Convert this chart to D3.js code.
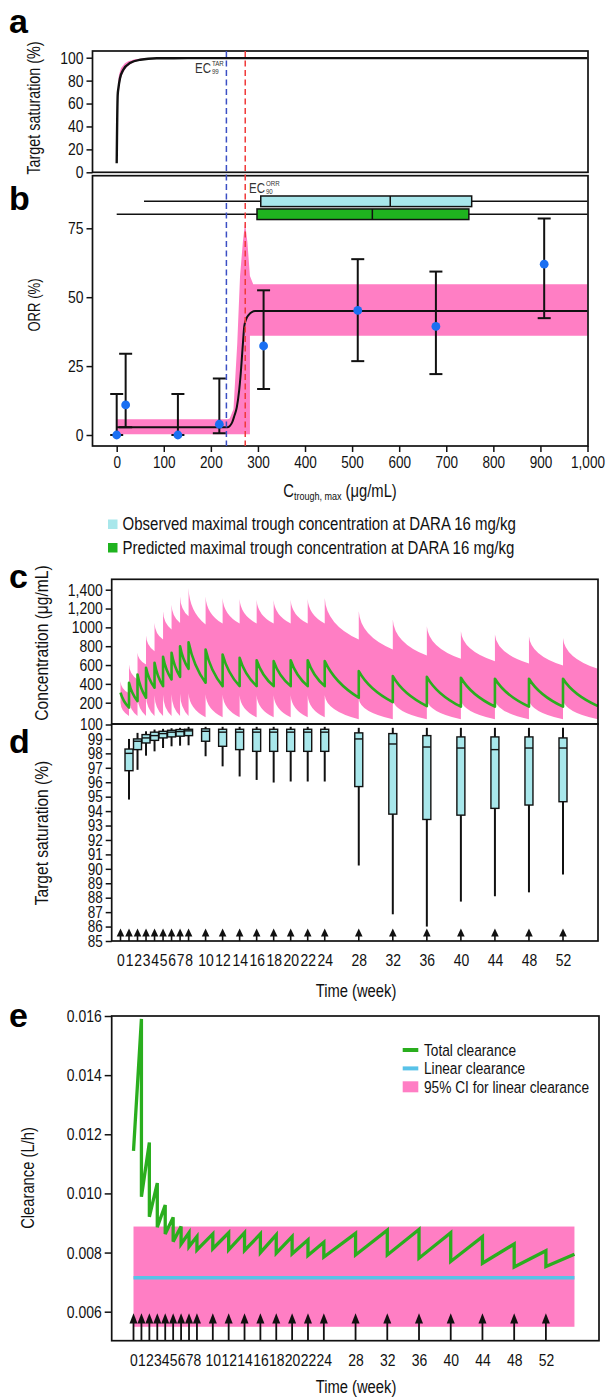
<!DOCTYPE html>
<html>
<head>
<meta charset="UTF-8">
<title>DARA exposure, target saturation and clearance</title>
<script src="https://d3js.org/d3.v7.min.js"></script>
<style>
  body { margin: 0; background: #fff; }
</style>
</head>
<body>
<div id="chart"></div>
<script>
// ---------- data ----------
// a: target saturation vs Ctrough,max
const satConc     = [0, 2.1, 3.5, 7, 14, 28, 50, 85, 150, 1000];
const satMedian   = [7.9, 67.5, 73, 82, 89.5, 95.3, 98.2, 99.5, 99.6, 99.6];
const satBandConc = [2.1, 3.5, 7, 14, 28, 50, 85];
const satBandLow  = [67, 68, 78, 87, 94, 97.6, 99.3];
const satBandHigh = [68, 80, 88, 93.5, 97.3, 99, 99.7];
const satTicks    = [0, 20, 40, 60, 80, 100];
const ec99Tar = 233;
const ec90Orr = 273;

// b: ORR vs Ctrough,max
const orrCurveConc = [0, 235, 245, 250, 255, 260, 263, 268, 271, 275, 280, 294, 1000];
const orrCurve     = [2.8, 2.8, 4.5, 7, 10, 16, 21.4, 33, 39.5, 42, 43.5, 45, 45];
const orrBandConc  = [0, 236, 240, 248, 256, 262, 268, 272.6, 277.6, 283, 283, 290, 1000];
const orrBandLow   = [0.3, 0.3, 0.3, 0.3, 0.3, 0.3, 0.3, 0.3, 0.3, 0.3, 36, 36, 36];
const orrBandHigh  = [5.7, 5.7, 6, 9.3, 33, 57.7, 70, 77, 70, 57.7, 57.7, 54.7, 54.7];
const orrConc = [0, 19, 130, 218, 312, 512, 678, 908];
const orrObs  = [0, 10.9, 0, 3.9, 32.3, 45.2, 39.4, 62];
const orrLow  = [0, 2.8, 0, 0.6, 16.7, 26.8, 22.1, 42.4];
const orrHigh = [14.9, 29.5, 14.9, 20.5, 52.5, 63.8, 59.3, 78.6];
const orrTicks  = [0, 25, 50, 75];
const concTicks = [0, 100, 200, 300, 400, 500, 600, 700, 800, 900, 1000];
const troughNames = ["Observed maximal trough concentration at DARA 16 mg/kg",
                     "Predicted maximal trough concentration at DARA 16 mg/kg"];
const troughMin = [58, 0];
const troughQ1  = [306, 298];
const troughMed = [581, 543];
const troughQ3  = [754, 748];
const troughMax = [1000, 1000];

// c: concentration-time, median and 95% band
const doseWeeks = [0, 1, 2, 3, 4, 5, 6, 7, 8, 10, 12, 14, 16, 18, 20, 22, 24, 28, 32, 36, 40, 44, 48, 52];
const concMedPeak   = [306, 412, 500, 571, 624, 687, 730, 800, 842, 765, 712, 677, 651, 641, 651, 651, 641, 535, 482, 475, 465, 454, 454, 454];
const concMedTrough = [147, 217, 253, 359, 376, 447, 475, 560, 412, 376, 376, 376, 376, 376, 376, 376, 253, 206, 164, 158, 158, 158, 158, 164];
const concHiPeak    = [429, 606, 730, 913, 1047, 1170, 1241, 1329, 1418, 1329, 1312, 1300, 1294, 1290, 1294, 1300, 1312, 1170, 1082, 1012, 959, 923, 906, 888];
const concHiTrough  = [300, 447, 606, 747, 871, 977, 1047, 1118, 1030, 1040, 1040, 1040, 1040, 1040, 1040, 1040, 871, 765, 701, 666, 641, 616, 595, 560];
const concLoPeak    = [200, 240, 260, 270, 280, 285, 290, 295, 300, 290, 285, 280, 280, 280, 280, 280, 280, 240, 235, 235, 235, 235, 235, 235];
const concLoTrough  = [60, 60, 60, 60, 60, 60, 60, 60, 45, 45, 45, 45, 45, 45, 45, 45, 25, 25, 25, 25, 25, 25, 25, 25];
const concEndWeek = 56.1;
const concTickValues = [200, 400, 600, 800, 1000, 1200, 1400];
const concTickLabels = ["200", "400", "600", "800", "1000", "1,200", "1,400"];

// d: target saturation boxplots at trough
const boxWeeks = [1, 2, 3, 4, 5, 6, 7, 8, 10, 12, 14, 16, 18, 20, 22, 24, 28, 32, 36, 40, 44, 48, 52];
const boxLow  = [94.8, 96.86, 97.84, 98.14, 98.37, 98.49, 98.53, 98.56, 97.8, 97.1, 96.4, 96.16, 95.98, 96.05, 96.05, 96.05, 90.23, 86.85, 86.0, 87.73, 88.1, 88.37, 89.6];
const boxQ1   = [96.8, 98.26, 98.72, 98.9, 99.07, 99.14, 99.19, 99.23, 98.84, 98.49, 98.26, 98.14, 98.14, 98.14, 98.14, 98.14, 95.7, 93.79, 93.42, 93.72, 94.19, 94.42, 94.65];
const boxMed  = [98.0, 98.84, 99.07, 99.23, 99.37, 99.47, 99.51, 99.56, 99.53, 99.47, 99.47, 99.47, 99.47, 99.47, 99.47, 99.47, 99.0, 98.65, 98.44, 98.37, 98.26, 98.37, 98.37];
const boxQ3   = [98.3, 99.0, 99.3, 99.47, 99.53, 99.6, 99.65, 99.67, 99.7, 99.67, 99.67, 99.67, 99.67, 99.67, 99.67, 99.67, 99.42, 99.37, 99.23, 99.14, 99.14, 99.14, 99.07];
const boxHigh = [99.0, 99.42, 99.53, 99.65, 99.7, 99.74, 99.77, 99.84, 99.84, 99.84, 99.84, 99.84, 99.84, 99.84, 99.84, 99.84, 99.77, 99.77, 99.77, 99.77, 99.77, 99.77, 99.77];
const satDTicks = [85, 86, 87, 88, 89, 90, 91, 92, 93, 94, 95, 96, 97, 98, 99, 100];

// e: clearance
const clAfterDose  = [0.01144, 0.00989, 0.00921, 0.00886, 0.00863, 0.00837, 0.00829, 0.0082, 0.00809, 0.00813, 0.00809, 0.00807, 0.008, 0.00798, 0.00796, 0.0079, 0.00785, 0.00792, 0.00792, 0.00781, 0.0077, 0.00764, 0.00751, 0.00753];
const clBeforeNext = [0.0159, 0.01172, 0.01035, 0.00961, 0.00919, 0.00888, 0.00867, 0.00854, 0.00863, 0.00867, 0.00867, 0.00863, 0.0086, 0.00854, 0.00843, 0.00835, 0.00865, 0.00876, 0.00878, 0.00867, 0.00854, 0.00829, 0.00806, 0.00794];
const linearCl = 0.00715;
const linearClLow = 0.00549;
const linearClHigh = 0.00888;
const clEndWeek = 55.6;
const clTicks = [0.006, 0.008, 0.010, 0.012, 0.014, 0.016];
const clLegend = ["Total clearance", "Linear clearance", "95% CI for linear clearance"];

// ---------- look ----------
const FONT = "'Liberation Sans', Arial, sans-serif";
const SQUEEZE = 0.82;   // the figure uses a condensed face; squeeze regular glyphs
const INK = "#111";
const PINK = "#ff7ec4";
const GREEN = "#2aae1e";
const BOXGREEN = "#1fb31f";
const CYAN = "#a8e7eb";
const DOT = "#1a6ff2";
const LINBLUE = "#58c2e8";

const svg = d3.select("#chart").append("svg")
  .attr("width", 608).attr("height", 1398)
  .style("font-family", FONT);
const defs = svg.append("defs");

function clipRect(id, x0, y0, x1, y1) {
  defs.append("clipPath").attr("id", id).append("rect")
    .attr("x", x0).attr("y", y0).attr("width", x1 - x0).attr("height", y1 - y0);
  return "url(#" + id + ")";
}
function frame(x0, y0, x1, y1) {
  svg.append("rect").attr("x", x0).attr("y", y0)
    .attr("width", x1 - x0).attr("height", y1 - y0)
    .attr("fill", "none").attr("stroke", INK).attr("stroke-width", 1.7);
}
function tidyAxis(g, size) {
  g.select(".domain").remove();
  g.selectAll(".tick line").attr("stroke", INK).attr("stroke-width", 1.5);
  g.selectAll(".tick text").attr("fill", INK)
    .style("font-size", size + "px").style("font-family", FONT);
}
function yTitle(x, y, txt, size) {
  svg.append("text").attr("transform", "translate(" + x + "," + y + ") rotate(-90)")
    .attr("text-anchor", "middle").style("font-size", size + "px").attr("fill", INK).text(txt);
}
function panelLetter(x, y, ch) {
  svg.append("text").attr("class", "letter").attr("x", x).attr("y", y).text(ch)
    .style("font-weight", "bold").style("font-size", "34px").attr("fill", "#000");
}
function ecLabel(x, y, sub, sup) {
  const t = svg.append("text").attr("x", x).attr("y", y)
    .style("font-size", "14px").attr("fill", "#333").text("EC");
  const w = t.node().getComputedTextLength() * SQUEEZE;
  svg.append("text").attr("x", x + w + 1).attr("y", y - 7.5)
    .style("font-size", "7.5px").attr("fill", "#333").text(sup);
  svg.append("text").attr("x", x + w + 1).attr("y", y + 0.5)
    .style("font-size", "7.5px").attr("fill", "#333").text(sub);
}
const idx = n => d3.range(n);

// ---------- a ----------
const xConc = d3.scaleLinear().domain([0, 1000]).range([116.7, 587.5]);
const A = { x0: 92.5, x1: 588, y0: 51, y1: 172.3 };
const ySat = d3.scaleLinear().domain([0, 100]).range([172.3, 57.7]);
const ga = svg.append("g").attr("clip-path", clipRect("clipA", A.x0, A.y0, A.x1, A.y1));
ga.append("path").datum(idx(satBandConc.length))
  .attr("d", d3.area().curve(d3.curveMonotoneX)
    .x(i => xConc(satBandConc[i])).y0(i => ySat(satBandLow[i])).y1(i => ySat(satBandHigh[i])))
  .attr("fill", PINK);
ga.append("path").datum(idx(satConc.length))
  .attr("d", d3.line().curve(d3.curveMonotoneX).x(i => xConc(satConc[i])).y(i => ySat(satMedian[i])))
  .attr("fill", "none").attr("stroke", INK).attr("stroke-width", 2.4);
frame(A.x0, A.y0, A.x1, A.y1);
svg.append("g").attr("transform", "translate(" + A.x0 + ",0)")
  .call(d3.axisLeft(ySat).tickValues(satTicks).tickSize(6).tickPadding(3))
  .call(g => tidyAxis(g, 17));
yTitle(40, 108, "Target saturation (%)", 17.5);
panelLetter(9, 33, "a");

// ---------- b ----------
const B = { x0: 92.5, x1: 588, y0: 175.7, y1: 446 };
const yOrr = d3.scaleLinear().domain([0, 75]).range([435, 228.3]);
const gb = svg.append("g").attr("clip-path", clipRect("clipB", B.x0, B.y0, B.x1, B.y1));
gb.append("path").datum(idx(orrBandConc.length))
  .attr("d", d3.area().x(i => xConc(orrBandConc[i]))
    .y0(i => yOrr(orrBandLow[i])).y1(i => yOrr(orrBandHigh[i])))
  .attr("fill", PINK);
gb.append("path").datum(idx(orrCurveConc.length))
  .attr("d", d3.line().curve(d3.curveMonotoneX).x(i => xConc(orrCurveConc[i])).y(i => yOrr(orrCurve[i])))
  .attr("fill", "none").attr("stroke", INK).attr("stroke-width", 2);

// boxplots of maximal trough concentration
const boxRowOrr = [84.8, 80.1];
const boxHalf = 5.3;
troughNames.forEach((name, i) => {
  const cy = yOrr(boxRowOrr[i]);
  gb.append("line").attr("x1", xConc(troughMin[i])).attr("x2", xConc(troughMax[i]))
    .attr("y1", cy).attr("y2", cy).attr("stroke", INK).attr("stroke-width", 1.5);
  gb.append("rect").attr("x", xConc(troughQ1[i])).attr("y", cy - boxHalf)
    .attr("width", xConc(troughQ3[i]) - xConc(troughQ1[i])).attr("height", 2 * boxHalf)
    .attr("fill", i === 0 ? CYAN : BOXGREEN).attr("stroke", INK).attr("stroke-width", 1.5);
  gb.append("line").attr("x1", xConc(troughMed[i])).attr("x2", xConc(troughMed[i]))
    .attr("y1", cy - boxHalf).attr("y2", cy + boxHalf).attr("stroke", INK).attr("stroke-width", 1.5);
});

// observed ORR with 95% CI
orrConc.forEach((c, i) => {
  const x = xConc(c);
  gb.append("line").attr("x1", x).attr("x2", x).attr("y1", yOrr(orrLow[i])).attr("y2", yOrr(orrHigh[i]))
    .attr("stroke", INK).attr("stroke-width", 2);
  [orrLow[i], orrHigh[i]].forEach(v => {
    gb.append("line").attr("x1", x - 6.5).attr("x2", x + 6.5).attr("y1", yOrr(v)).attr("y2", yOrr(v))
      .attr("stroke", INK).attr("stroke-width", 2);
  });
});
gb.selectAll("circle.obs").data(idx(orrConc.length)).join("circle")
  .attr("class", "obs").attr("cx", i => xConc(orrConc[i])).attr("cy", i => yOrr(orrObs[i]))
  .attr("r", 4.4).attr("fill", DOT);

frame(B.x0, B.y0, B.x1, B.y1);
svg.append("g").attr("transform", "translate(" + B.x0 + ",0)")
  .call(d3.axisLeft(yOrr).tickValues(orrTicks).tickSize(6).tickPadding(3))
  .call(g => tidyAxis(g, 17));
svg.append("g").attr("transform", "translate(0," + B.y1 + ")")
  .call(d3.axisBottom(xConc).tickValues(concTicks).tickFormat(d3.format(",")).tickSize(6).tickPadding(4))
  .call(g => tidyAxis(g, 16.5));
yTitle(40, 305, "ORR (%)", 16);
panelLetter(9, 210, "b");

// EC lines across a and b
[[ec99Tar, "#3b4fc4"], [ec90Orr, "#f03a3a"]].forEach(([c, col]) => {
  svg.append("line").attr("x1", xConc(c)).attr("x2", xConc(c)).attr("y1", A.y0).attr("y2", B.y1)
    .attr("stroke", col).attr("stroke-width", 1.5).attr("stroke-dasharray", "6,3.5");
});
ecLabel(195, 73, "99", "TAR");
ecLabel(249, 193, "90", "ORR");

// x title b
const xl = svg.append("text").attr("x", 340).attr("y", 497).attr("text-anchor", "middle")
  .style("font-size", "18px").attr("fill", INK);
xl.append("tspan").text("C");
xl.append("tspan").attr("dy", 3).style("font-size", "11px").text("trough, max");
xl.append("tspan").attr("dy", -3).text(" (\u03bcg/mL)");

// legend under b
troughNames.forEach((name, i) => {
  const y = 530 + i * 23.5;
  svg.append("rect").attr("x", 108).attr("y", y - 10.5).attr("width", 9.5).attr("height", 9.5)
    .attr("fill", i === 0 ? CYAN : BOXGREEN);
  svg.append("text").attr("x", 122.6).attr("y", y).style("font-size", "18.3px").attr("fill", INK).text(name);
});

// ---------- c ----------
const xWk = d3.scaleLinear().domain([0, 52]).range([120.5, 563]);
const C = { x0: 111.7, x1: 598, y0: 579.3, y1: 724 };
const yConc = d3.scaleLinear().domain([200, 1400]).range([702.7, 589.7]);
const gc = svg.append("g").attr("clip-path", clipRect("clipC", C.x0, C.y0, C.x1, C.y1));

// decay segment from dose i (peak) to next dose (trough), drawn as a bent curve
function segEnd(i) { return i < doseWeeks.length - 1 ? doseWeeks[i + 1] : concEndWeek; }
function decayTo(p, i, peak, trough, k, m) {
  const t0 = doseWeeks[i], t1 = segEnd(i);
  p.quadraticCurveTo(xWk(t0 + k * (t1 - t0)), yConc(trough + m * (peak - trough)), xWk(t1), yConc(trough));
}
function decayBack(p, i, peak, trough, k, m) {
  const t0 = doseWeeks[i], t1 = segEnd(i);
  p.quadraticCurveTo(xWk(t0 + k * (t1 - t0)), yConc(trough + m * (peak - trough)), xWk(t0), yConc(peak));
}
const band = d3.path();
doseWeeks.forEach((t, i) => {
  if (i === 0) band.moveTo(xWk(t), yConc(concHiPeak[0])); else band.lineTo(xWk(t), yConc(concHiPeak[i]));
  decayTo(band, i, concHiPeak[i], concHiTrough[i], 0.05, 0.35);
});
for (let i = doseWeeks.length - 1; i >= 0; i--) {
  if (i === doseWeeks.length - 1) band.lineTo(xWk(concEndWeek), yConc(concLoTrough[i]));
  decayBack(band, i, concLoPeak[i], concLoTrough[i], 0.05, 0.35);
  if (i > 0) band.lineTo(xWk(doseWeeks[i]), yConc(concLoTrough[i - 1]));
}
band.closePath();
gc.append("path").attr("d", band.toString()).attr("fill", PINK);

const med = d3.path();
doseWeeks.forEach((t, i) => {
  if (i === 0) med.moveTo(xWk(t), yConc(concMedPeak[0])); else med.lineTo(xWk(t), yConc(concMedPeak[i]));
  decayTo(med, i, concMedPeak[i], concMedTrough[i], 0.3, 0.4);
});
gc.append("path").attr("d", med.toString()).attr("fill", "none")
  .attr("stroke", GREEN).attr("stroke-width", 2.6).attr("stroke-linejoin", "round");
frame(C.x0, C.y0, C.x1, C.y1);
svg.append("g").attr("transform", "translate(" + C.x0 + ",0)")
  .call(d3.axisLeft(yConc).tickValues(concTickValues)
    .tickFormat((d, i) => concTickLabels[i]).tickSize(6).tickPadding(3))
  .call(g => tidyAxis(g, 17));
yTitle(48, 643, "Concentration (\u03bcg/mL)", 19);
panelLetter(9, 588, "c");

// ---------- d ----------
const D = { x0: 111.7, x1: 598, y0: 724, y1: 941 };
const ySatD = d3.scaleLinear().domain([85, 100]).range([941, 724.5]);
const gd = svg.append("g");
boxWeeks.forEach((w, i) => {
  const x = xWk(w), hw = 4;
  gd.append("line").attr("x1", x).attr("x2", x).attr("y1", ySatD(boxLow[i])).attr("y2", ySatD(boxHigh[i]))
    .attr("stroke", INK).attr("stroke-width", 2);
  gd.append("rect").attr("x", x - hw).attr("y", ySatD(boxQ3[i])).attr("width", 2 * hw)
    .attr("height", ySatD(boxQ1[i]) - ySatD(boxQ3[i]))
    .attr("fill", CYAN).attr("stroke", INK).attr("stroke-width", 1.4);
  gd.append("line").attr("x1", x - hw).attr("x2", x + hw).attr("y1", ySatD(boxMed[i])).attr("y2", ySatD(boxMed[i]))
    .attr("stroke", INK).attr("stroke-width", 1.4);
});
// dosing arrows
doseWeeks.forEach(w => {
  const x = xWk(w);
  gd.append("line").attr("x1", x).attr("x2", x).attr("y1", D.y1).attr("y2", 935).attr("stroke", INK).attr("stroke-width", 1.6);
  gd.append("path").attr("d", "M" + (x - 3.8) + ",936.5L" + (x + 3.8) + ",936.5L" + x + ",928.5Z").attr("fill", INK);
});
frame(D.x0, D.y0, D.x1, D.y1);
svg.append("g").attr("transform", "translate(" + D.x0 + ",0)")
  .call(d3.axisLeft(ySatD).tickValues(satDTicks).tickFormat(d3.format("d")).tickSize(6).tickPadding(3))
  .call(g => tidyAxis(g, 16.5));
svg.append("g").attr("transform", "translate(0," + D.y1 + ")")
  .call(d3.axisBottom(xWk).tickValues(doseWeeks).tickFormat(d3.format("d")).tickSize(0).tickPadding(13))
  .call(g => tidyAxis(g, 17));
svg.append("text").attr("x", 356).attr("y", 997).attr("text-anchor", "middle")
  .style("font-size", "18px").attr("fill", INK).text("Time (week)");
yTitle(48, 833, "Target saturation (%)", 19);
panelLetter(9, 753, "d");

// ---------- e ----------
const E = { x0: 111.7, x1: 599, y0: 1016, y1: 1340.7 };
const xWkE = d3.scaleLinear().domain([0, 52]).range([133.5, 545.9]);
const yCl = d3.scaleLinear().domain([0.006, 0.016]).range([1311.7, 1016]);
const ge = svg.append("g").attr("clip-path", clipRect("clipE", E.x0, E.y0, E.x1, E.y1));
ge.append("rect").attr("x", xWkE(0)).attr("y", yCl(linearClHigh))
  .attr("width", xWkE(clEndWeek) - xWkE(0)).attr("height", yCl(linearClLow) - yCl(linearClHigh))
  .attr("fill", PINK);
ge.append("line").attr("x1", xWkE(0)).attr("x2", xWkE(clEndWeek)).attr("y1", yCl(linearCl)).attr("y2", yCl(linearCl))
  .attr("stroke", LINBLUE).attr("stroke-width", 3.5);
const clPts = [];
doseWeeks.forEach((t, i) => {
  const t1 = i < doseWeeks.length - 1 ? doseWeeks[i + 1] : clEndWeek;
  clPts.push([t, clAfterDose[i]], [t1, clBeforeNext[i]]);
});
ge.append("path").datum(clPts)
  .attr("d", d3.line().x(d => xWkE(d[0])).y(d => yCl(d[1])))
  .attr("fill", "none").attr("stroke", GREEN).attr("stroke-width", 3.3).attr("stroke-linejoin", "miter");
doseWeeks.forEach(w => {
  const x = xWkE(w);
  ge.append("line").attr("x1", x).attr("x2", x).attr("y1", E.y1).attr("y2", 1322).attr("stroke", INK).attr("stroke-width", 1.8);
  ge.append("path").attr("d", "M" + (x - 4) + ",1323.5L" + (x + 4) + ",1323.5L" + x + ",1313.3Z").attr("fill", INK);
});
frame(E.x0, E.y0, E.x1, E.y1);
svg.append("g").attr("transform", "translate(" + E.x0 + ",0)")
  .call(d3.axisLeft(yCl).tickValues(clTicks).tickFormat(d3.format(".3f")).tickSize(7).tickPadding(3))
  .call(g => tidyAxis(g, 17));
svg.append("g").attr("transform", "translate(0," + E.y1 + ")")
  .call(d3.axisBottom(xWkE).tickValues(doseWeeks).tickFormat(d3.format("d")).tickSize(0).tickPadding(13))
  .call(g => tidyAxis(g, 17));
svg.append("text").attr("x", 356).attr("y", 1393).attr("text-anchor", "middle")
  .style("font-size", "18px").attr("fill", INK).text("Time (week)");
yTitle(34, 1178, "Clearance (L/h)", 18);
panelLetter(9, 1027, "e");

// legend e
clLegend.forEach((name, i) => {
  const y = 1050 + i * 18.4;
  if (i < 2) {
    svg.append("line").attr("x1", 402.7).attr("x2", 418.3).attr("y1", y).attr("y2", y)
      .attr("stroke", i === 0 ? GREEN : LINBLUE).attr("stroke-width", 4);
  } else {
    svg.append("rect").attr("x", 402.7).attr("y", y - 5.5).attr("width", 15.6).attr("height", 11).attr("fill", PINK);
  }
  svg.append("text").attr("x", 424).attr("y", y + 5.8).style("font-size", "16.7px").attr("fill", INK).text(name);
});

// condensed look: squeeze every label except the panel letters
svg.selectAll("text:not(.letter)").each(function () {
  const len = this.getComputedTextLength();
  d3.select(this).attr("textLength", (len * SQUEEZE).toFixed(2)).attr("lengthAdjust", "spacingAndGlyphs");
});
</script>
</body>
</html>
